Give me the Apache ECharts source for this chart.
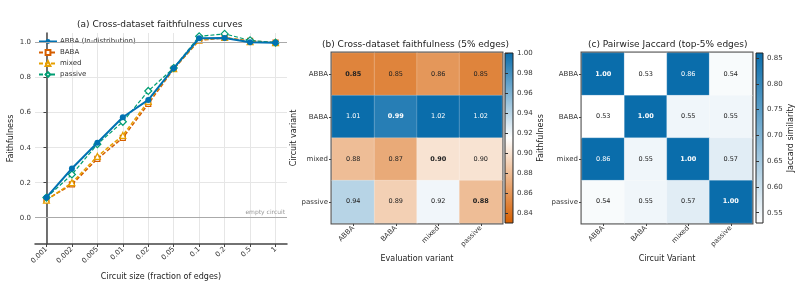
<!DOCTYPE html>
<html>
<head>
<meta charset="utf-8">
<script src="https://cdn.jsdelivr.net/npm/echarts@6/dist/echarts.min.js"></script>
<style>
  html, body { margin: 0; padding: 0; background: #fff; }
  #main { width: 800px; height: 287px; }
</style>
</head>
<body>
<div id="main"></div>
<script>
// 数据
const sizeLabels = ["0.001", "0.002", "0.005", "0.01", "0.02", "0.05", "0.1", "0.2", "0.5", "1"];
const abbaCurve = [0.116, 0.281, 0.428, 0.574, 0.673, 0.854, 1.025, 1.027, 1.002, 1.0];
const babaCurve = [0.105, 0.19, 0.336, 0.456, 0.65, 0.85, 1.013, 1.027, 1.01, 1.0];
const mixedCurve = [0.1, 0.2, 0.35, 0.47, 0.665, 0.852, 1.015, 1.03, 1.005, 1.0];
const passiveCurve = [0.115, 0.247, 0.42, 0.548, 0.724, 0.855, 1.036, 1.05, 1.013, 1.0];
const faithYTicks = [0, 0.2, 0.4, 0.6, 0.8, 1.0];

const variants = ["ABBA", "BABA", "mixed", "passive"];
// 行 = circuit variant, 列 = evaluation variant
const faithMatrix = [
  [0.85, 0.85, 0.86, 0.85],
  [1.01, 0.99, 1.02, 1.02],
  [0.88, 0.87, 0.90, 0.90],
  [0.94, 0.89, 0.92, 0.88],
];
const jaccardMatrix = [
  [1.0, 0.53, 0.86, 0.54],
  [0.53, 1.0, 0.55, 0.55],
  [0.86, 0.55, 1.0, 0.57],
  [0.54, 0.55, 0.57, 1.0],
];
const faithCbarTicks = [0.84, 0.86, 0.88, 0.9, 0.92, 0.94, 0.96, 0.98, 1.0];
const jaccardCbarTicks = [0.55, 0.6, 0.65, 0.7, 0.75, 0.8, 0.85];

const FONT = "DejaVu Sans";
const BLUE = "#0072B2", VERM = "#D55E00", ORANGE = "#E69F00", GREEN = "#009E73";
const DEEP = "#0a6dab";

const FAITH_MIN = 0.83, FAITH_MAX = 1.0;
const JAC_MIN = 0.53, JAC_MAX = 0.86;

function toPairs(arr) {
  return arr.map((v, i) => [i, v]);
}

function heatData(matrix, lo, hi, whiteAbove) {
  let out = [];
  matrix.forEach((row, r) => {
    row.forEach((v, c) => {
      out.push({
        value: [c, r, v, Math.min(Math.max(v, lo), hi)],
        label: {
          color: v > whiteAbove ? "#fff" : "#222",
          fontWeight: r === c ? "bold" : "normal",
        },
      });
    });
  });
  return out;
}

var myChart = echarts.init(document.getElementById("main"));

const tickLabelStyle = { fontFamily: FONT, fontSize: 7, color: "#333" };
const nameStyle = { fontFamily: FONT, fontSize: 8, color: "#222" };

// 热力图坐标轴
function heatAxes(gridIndex, xName, yName) {
  const x = {
    type: "category",
    gridIndex: gridIndex,
    data: variants,
    position: "bottom",
    name: xName,
    nameLocation: "middle",
    nameGap: 24,
    nameTextStyle: nameStyle,
    axisLine: { show: false },
    axisTick: { show: true, alignWithLabel: true, length: 3, lineStyle: { color: "#444" } },
    axisLabel: Object.assign({ rotate: 45, margin: 4, interval: 0 }, tickLabelStyle),
    splitLine: { show: false },
  };
  const y = {
    type: "category",
    gridIndex: gridIndex,
    data: variants,
    inverse: true,
    name: yName,
    nameLocation: "middle",
    nameGap: 30,
    nameTextStyle: nameStyle,
    axisLine: { show: false },
    axisTick: { show: true, alignWithLabel: true, length: 3, lineStyle: { color: "#444" } },
    axisLabel: Object.assign({ margin: 4, interval: 0 }, tickLabelStyle),
    splitLine: { show: false },
  };
  return [x, y];
}

// 色条坐标轴
function cbarAxes(gridIndex, lo, hi, ticks, name, nameGap) {
  const x = { type: "value", gridIndex: gridIndex, show: false, min: 0, max: 1 };
  const y = {
    type: "value",
    gridIndex: gridIndex,
    position: "right",
    min: lo,
    max: hi,
    name: name,
    nameLocation: "middle",
    nameGap: nameGap,
    nameTextStyle: nameStyle,
    axisLine: { show: false },
    axisTick: { show: true, customValues: ticks, length: 3, lineStyle: { color: "#333" } },
    axisLabel: Object.assign({ customValues: ticks, margin: 4, formatter: (v) => v.toFixed(2) }, tickLabelStyle),
    splitLine: { show: false },
  };
  return [x, y];
}

const hb = heatAxes(1, "Evaluation variant", "Circuit variant");
const hc = heatAxes(3, "Circuit Variant", "");
const cb = cbarAxes(2, FAITH_MIN, FAITH_MAX, faithCbarTicks, "Faithfulness", 24);
const cc = cbarAxes(4, JAC_MIN, JAC_MAX, jaccardCbarTicks, "Jaccard similarity", 23);

const heatLabel = {
  show: true,
  fontFamily: FONT,
  fontSize: 6.5,
  formatter: (p) => p.value[2].toFixed(2),
};

var option = {
  backgroundColor: "#fff",
  animation: false,
  graphic: [
    {
      type: "text", left: 77, top: 20,
      style: { text: "(a) Cross-dataset faithfulness curves", fontFamily: FONT, fontSize: 9, fill: "#222" },
    },
    {
      type: "text", left: 322, top: 40,
      style: { text: "(b) Cross-dataset faithfulness (5% edges)", fontFamily: FONT, fontSize: 9, fill: "#222" },
    },
    {
      type: "text", left: 588, top: 40,
      style: { text: "(c) Pairwise Jaccard (top-5% edges)", fontFamily: FONT, fontSize: 9, fill: "#222" },
    },
  ],
  legend: {
    orient: "vertical",
    left: 38,
    top: 38,
    itemWidth: 18,
    itemHeight: 6,
    itemGap: 4,
    padding: 0,
    textStyle: { fontFamily: FONT, fontSize: 7, color: "#333", padding: [0, 0, 0, -2] },
    data: ["ABBA (In-distribution)", "BABA", "mixed", "passive"],
  },
  grid: [
    { left: 35, top: 33, width: 252, height: 211 },
    { left: 332, top: 53, width: 170, height: 170, show: true, borderColor: "#555", borderWidth: 3, backgroundColor: "transparent" },
    {
      left: 505, top: 53, width: 8, height: 170, show: true, borderColor: "#222", borderWidth: 1,
      backgroundColor: new echarts.graphic.LinearGradient(0, 1, 0, 0, [
        { offset: 0, color: VERM },
        { offset: 0.5, color: "#ffffff" },
        { offset: 1, color: DEEP },
      ]),
    },
    { left: 582, top: 53, width: 170, height: 170, show: true, borderColor: "#555", borderWidth: 3, backgroundColor: "transparent" },
    {
      left: 756, top: 53, width: 7, height: 170, show: true, borderColor: "#222", borderWidth: 1,
      backgroundColor: new echarts.graphic.LinearGradient(0, 1, 0, 0, [
        { offset: 0, color: "#ffffff" },
        { offset: 1, color: DEEP },
      ]),
    },
  ],
  xAxis: [
    {
      type: "value",
      gridIndex: 0,
      min: -0.45,
      max: 9.45,
      name: "Circuit size (fraction of edges)",
      nameLocation: "middle",
      nameGap: 29,
      nameTextStyle: nameStyle,
      axisLine: { show: true, onZero: false, lineStyle: { color: "#444", width: 1.5 } },
      axisTick: { show: true, customValues: sizeLabels.map((s, i) => i), length: 3, lineStyle: { color: "#444" } },
      axisLabel: Object.assign({
        customValues: sizeLabels.map((s, i) => i),
        rotate: 45,
        margin: 4,
        formatter: (v) => sizeLabels[Math.round(v)],
      }, tickLabelStyle),
      splitLine: { show: true, lineStyle: { color: "#e6e6e6", width: 1 } },
    },
    hb[0], cb[0], hc[0], cc[0],
  ],
  yAxis: [
    {
      type: "value",
      gridIndex: 0,
      min: -0.15,
      max: 1.055,
      name: "Faithfulness",
      nameLocation: "middle",
      nameGap: 20,
      nameTextStyle: nameStyle,
      axisLine: { show: true, lineStyle: { color: "#444", width: 1.5 } },
      axisTick: { show: true, customValues: faithYTicks, length: 3, lineStyle: { color: "#444" } },
      axisLabel: Object.assign({ customValues: faithYTicks, margin: 4, formatter: (v) => v.toFixed(1) }, tickLabelStyle),
      splitLine: { show: true, lineStyle: { color: "#e6e6e6", width: 1 } },
    },
    hb[1], cb[1], hc[1], cc[1],
  ],
  visualMap: [
    {
      type: "continuous", show: false, seriesIndex: 4, dimension: 3,
      min: FAITH_MIN, max: FAITH_MAX,
      inRange: { color: [VERM, "#ffffff", DEEP] },
    },
    {
      type: "continuous", show: false, seriesIndex: 5, dimension: 3,
      min: JAC_MIN, max: JAC_MAX,
      inRange: { color: ["#ffffff", DEEP] },
    },
  ],
  series: [
    {
      name: "ABBA (In-distribution)",
      type: "line",
      xAxisIndex: 0, yAxisIndex: 0,
      data: toPairs(abbaCurve),
      z: 5,
      symbol: "circle",
      symbolSize: 6,
      lineStyle: { color: BLUE, width: 2 },
      itemStyle: { color: BLUE },
      markLine: {
        silent: true,
        symbol: "none",
        lineStyle: { color: "#aaa", width: 1, type: "solid" },
        data: [
          {
            yAxis: 0,
            label: {
              show: true, position: "insideEndTop", formatter: "empty circuit",
              fontFamily: FONT, fontSize: 6, color: "#999", distance: 2,
            },
          },
          { yAxis: 1, label: { show: false } },
        ],
      },
    },
    {
      name: "BABA",
      type: "line",
      xAxisIndex: 0, yAxisIndex: 0,
      data: toPairs(babaCurve),
      z: 3,
      symbol: "rect",
      symbolSize: 5,
      lineStyle: { color: VERM, width: 1.5, type: [4, 2] },
      itemStyle: { color: "#fff", borderColor: VERM, borderWidth: 1.2 },
    },
    {
      name: "mixed",
      type: "line",
      xAxisIndex: 0, yAxisIndex: 0,
      data: toPairs(mixedCurve),
      z: 3,
      symbol: "triangle",
      symbolSize: 6,
      lineStyle: { color: ORANGE, width: 1.5, type: [4, 2] },
      itemStyle: { color: "#fff", borderColor: ORANGE, borderWidth: 1.2 },
    },
    {
      name: "passive",
      type: "line",
      xAxisIndex: 0, yAxisIndex: 0,
      data: toPairs(passiveCurve),
      z: 4,
      symbol: "diamond",
      symbolSize: 7,
      lineStyle: { color: GREEN, width: 1.2, type: [4, 2] },
      itemStyle: { color: "#fff", borderColor: GREEN, borderWidth: 1.2 },
    },
    {
      type: "heatmap",
      xAxisIndex: 1, yAxisIndex: 1,
      data: heatData(faithMatrix, FAITH_MIN, FAITH_MAX, 0.97),
      label: heatLabel,
      itemStyle: { borderColor: "rgba(255,255,255,0.35)", borderWidth: 0.6 },
      emphasis: { disabled: true },
    },
    {
      type: "heatmap",
      xAxisIndex: 3, yAxisIndex: 3,
      data: heatData(jaccardMatrix, JAC_MIN, JAC_MAX, 0.75),
      label: heatLabel,
      itemStyle: { borderColor: "rgba(255,255,255,0.35)", borderWidth: 0.6 },
      emphasis: { disabled: true },
    },
  ],
};

option && myChart.setOption(option);
window.addEventListener("resize", function () {
  myChart.resize();
});
</script>
</body>
</html>
